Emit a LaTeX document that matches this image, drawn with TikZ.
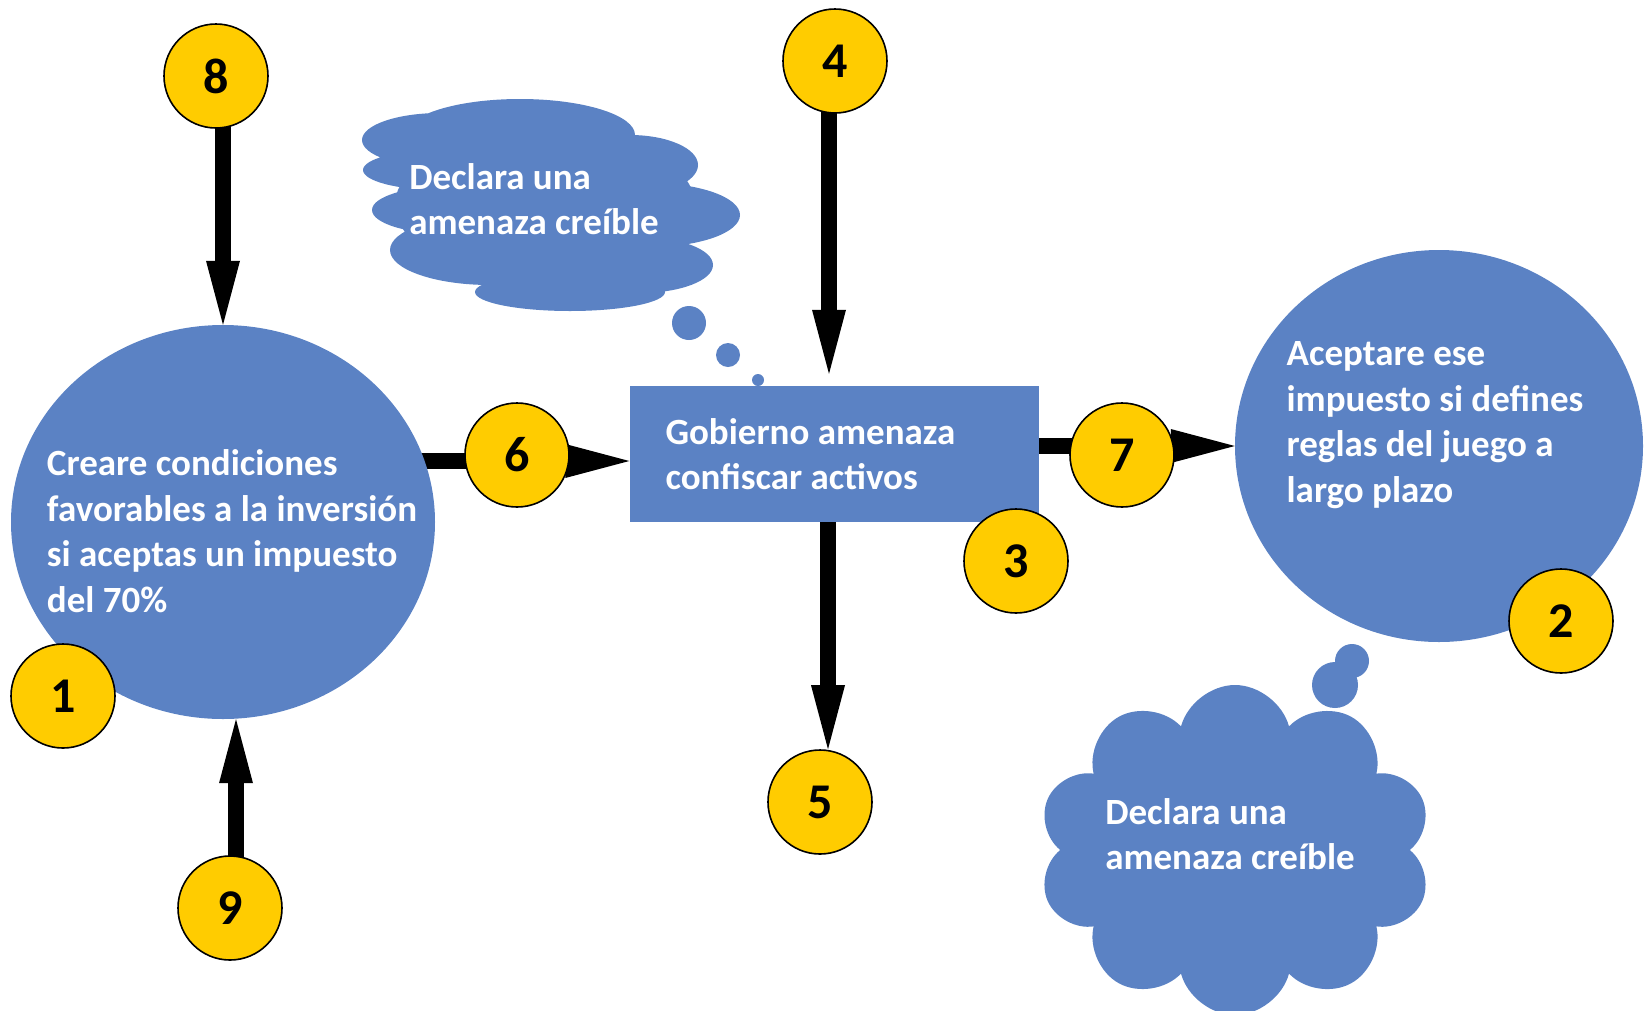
\documentclass[tikz,border=0pt]{standalone}
\usepackage{fontspec}
\setmainfont{Carlito}
\usetikzlibrary{shapes.geometric,shapes.symbols,arrows.meta,backgrounds}

\definecolor{puffblue}{RGB}{91,130,196}
\definecolor{tokengold}{RGB}{255,204,0}

\tikzset{
  blueshape/.style={fill=puffblue, draw=none, inner sep=0pt},
  whitetext/.style={text=white, inner sep=0pt, align=flush left,
    font=\bfseries\fontsize{37}{45.5}\selectfont},
  numdot/.style={circle, fill=tokengold, draw=black, line width=1.6pt,
    minimum size=104pt, inner sep=0pt, font=\bfseries\fontsize{50}{52}\selectfont},
  thickarrow/.style={line width=16pt, -{Triangle[length=64pt,width=34pt,line width=0pt]}},
}

\begin{document}
\begin{tikzpicture}[x=1pt, y=-1pt]
  \clip (0,0) rectangle (1646,1010);

  % main shapes
  \node[blueshape, ellipse, minimum width=424pt, minimum height=394pt] (c1) at (223,522) {};
  \node[whitetext] (t1) at (232,531) {Creare condiciones\\favorables a la inversión\\si aceptas un impuesto\\del 70\%};

  \node[blueshape, whitetext, rectangle, minimum width=409pt, minimum height=136pt,
        text width=337pt, inner xsep=36pt] (box) at (834,454) {Gobierno amenaza\\confiscar activos};

  \node[blueshape, ellipse, minimum width=408pt, minimum height=392pt] (c2) at (1439,446) {};
  \node[whitetext] (t2) at (1435,425) {Aceptare ese\\impuesto si defines\\reglas del juego a\\largo plazo};

  % cloud over the box, built from puffs
  \fill[puffblue]
    (545,205) ellipse [x radius=150, y radius=75]
    (440,140) ellipse [x radius=78, y radius=27]
    (520,135) ellipse [x radius=115, y radius=36]
    (630,165) ellipse [x radius=68, y radius=30]
    (650,215) ellipse [x radius=90, y radius=32]
    (640,265) ellipse [x radius=73, y radius=28]
    (570,292) ellipse [x radius=95, y radius=19]
    (490,250) ellipse [x radius=100, y radius=35]
    (450,210) ellipse [x radius=78, y radius=24]
    (440,170) ellipse [x radius=77, y radius=20];
  \node[whitetext] (tcl1) at (534,199) {Declara una\\amenaza creíble};
  \fill[puffblue] (689,323) circle (17) (728,355) circle (12) (758,380) circle (6);

  % cloud under circle 2
  \node[blueshape, cloud, cloud puffs=10, cloud ignores aspect,
        minimum width=394pt, minimum height=330pt] (cl2) at (1235,850) {};
  \fill[puffblue] (1335,685) circle (23) (1352,661) circle (17);
  \node[whitetext] (tcl2) at (1230,834) {Declara una\\amenaza creíble};

  % numbers
  \node[numdot] (n1) at (63,696) {1};
  \node[numdot] (n2) at (1561,621) {2};
  \node[numdot] (n3) at (1016,561) {3};
  \node[numdot] (n4) at (835,61) {4};
  \node[numdot] (n5) at (820,802) {5};
  \node[numdot] (n6) at (517,455) {6};
  \node[numdot] (n7) at (1122,455) {7};
  \node[numdot] (n8) at (216,76) {8};
  \node[numdot] (n9) at (230,908) {9};

  % connectors
  \begin{scope}[on background layer]
    \draw[thickarrow] (c1.north |- n8) -- (c1.north);
    \draw[thickarrow] ([xshift=6pt]n9.center) -- ([xshift=6pt]n9 |- c1.south);
    \draw[thickarrow] ([xshift=-6pt]n4.center) -- ([xshift=-6pt,yshift=12pt]n4 |- box.north);
    \draw[thickarrow] ([xshift=-6pt]box.south) -- ([xshift=-6pt]box.south |- n5.north);
    \draw[thickarrow] ([yshift=-6pt]c1.center |- n6) -- ([yshift=-6pt]box.west |- n6);
    \draw[thickarrow] (box.east |- c2.west) -- (c2.west);
  \end{scope}
\end{tikzpicture}
\end{document}
